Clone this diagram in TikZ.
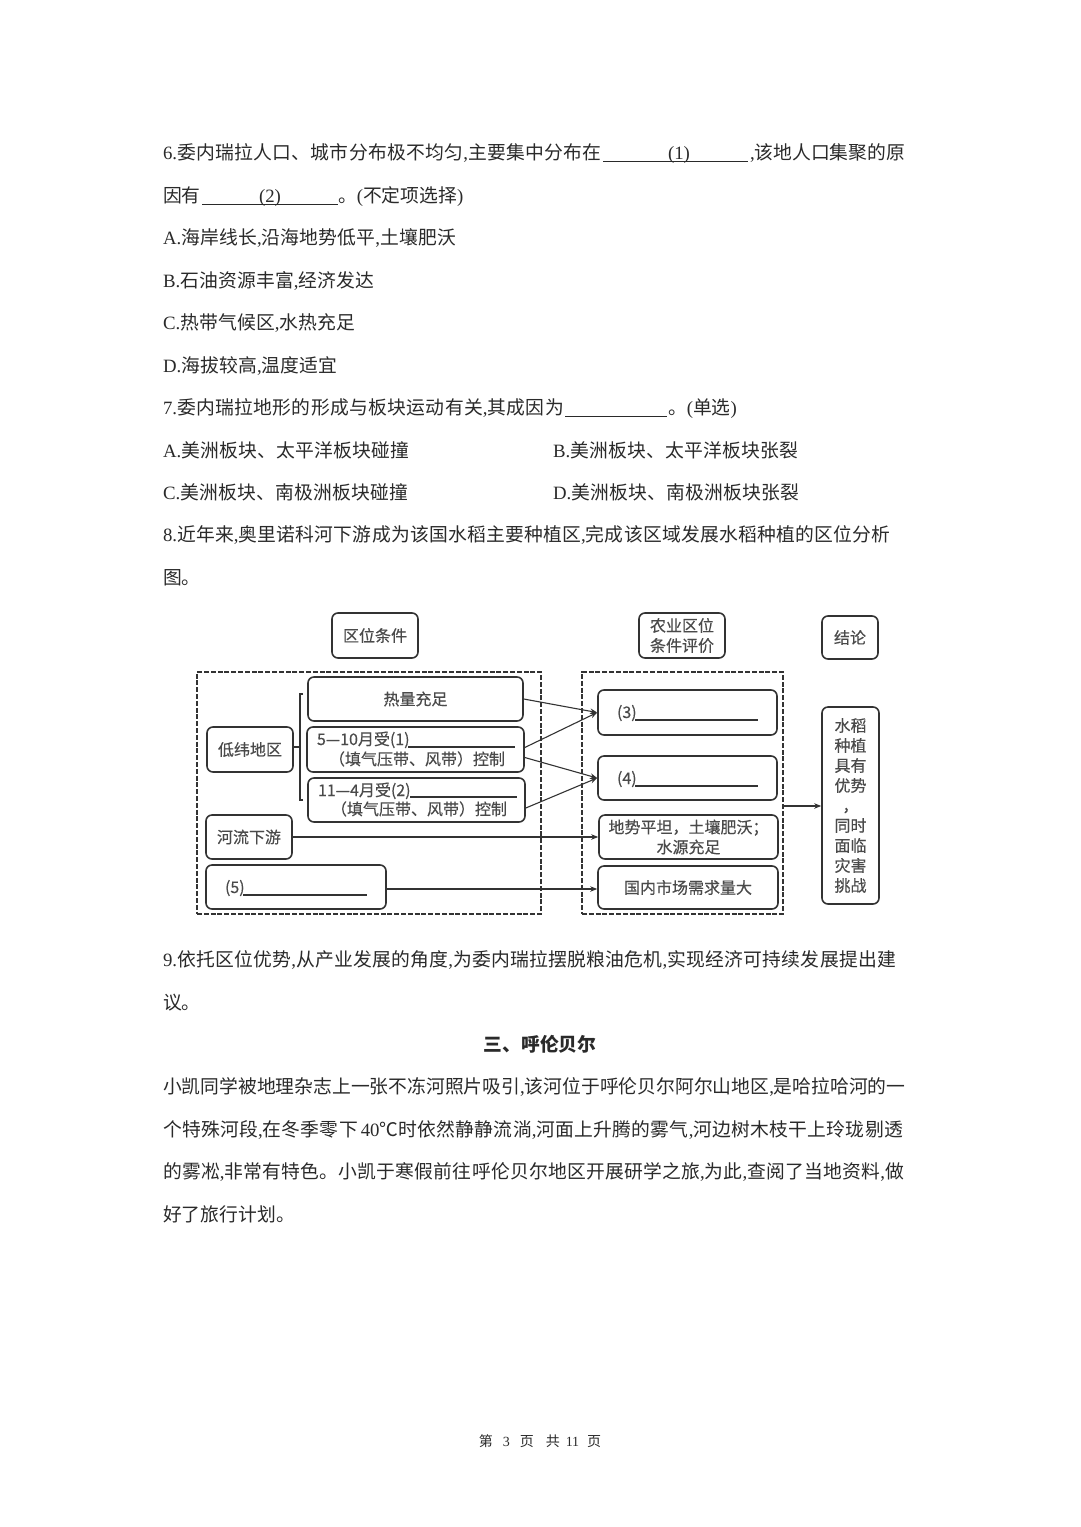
\documentclass[tikz,border=0pt]{standalone}
\usepackage{fontspec}
\usetikzlibrary{arrows.meta}
\setmainfont{Noto Sans CJK SC}
\newfontfamily\latinfont{Liberation Serif}
\newcommand\lt[1]{{\latinfont #1}}
\newcommand\spc[1]{\addfontfeature{LetterSpace=#1}}
\newcommand\figfont{\fontsize{16}{20}\selectfont\addfontfeature{FakeBold=0.35}}
\definecolor{pagetext}{HTML}{2A2A2A}
\definecolor{figtext}{HTML}{4A4A4A}
\definecolor{figline}{HTML}{333333}
\tikzset{
 para/.style={anchor=base west,inner sep=0pt,outer sep=0pt,text=pagetext,font=\fontsize{18.8}{23}\selectfont},
 uline/.style={draw=pagetext,line width=1pt},
 box/.style={draw=figline,line width=1.6pt,rounded corners=6pt,inner sep=0pt,align=center,text=figtext,font=\figfont},
 dashbox/.style={draw=figline,line width=2pt,dash pattern=on 5pt off 1.8pt,inner sep=0pt},
 figtxt/.style={inner sep=0pt,outer sep=0pt,text=figtext,font=\figfont,anchor=base west},
 figu/.style={draw=figline,line width=1.2pt},
 conn/.style={draw=figline,line width=1.1pt,-{Stealth[length=7pt,width=5.5pt]}},
 brk/.style={draw=figline,line width=1.1pt}
}
\begin{document}
\begin{tikzpicture}[x=1pt,y=-1pt]
\useasboundingbox[fill=white] (0,0) rectangle (1080,1527);
% question 6
\node[para] (q6a) at (163,159) {\spc{1.6}\lt{6.}委内瑞拉人口、城市分布极不均匀\lt{,}主要集中分布在};
\node[para] (q6b) at (668,159) {\lt{(1)}};
\node[para] (q6c) at (750,159) {\lt{,}该地人口集聚的原};
\draw[uline] (603,161) -- (748,161);
\node[para] (q6d) at (163,202) {因有};
\node[para] (q6e) at (259,202) {\lt{(2)}};
\node[para] (q6f) at (338,202) {。\lt{(}不定项选择\lt{)}};
\draw[uline] (202,204) -- (338,204);
\node[para] (oa) at (163,244) {\spc{1}\lt{A.}海岸线长\lt{,}沿海地势低平\lt{,}土壤肥沃};
\node[para] (ob) at (163,287) {\spc{1}\lt{B.}石油资源丰富\lt{,}经济发达};
\node[para] (oc) at (163,329) {\spc{1}\lt{C.}热带气候区\lt{,}水热充足};
\node[para] (od) at (163,372) {\spc{1}\lt{D.}海拔较高\lt{,}温度适宜};
% question 7
\node[para] (q7a) at (163,414) {\spc{1.8}\lt{7.}委内瑞拉地形的形成与板块运动有关\lt{,}其成因为};
\node[para] (q7b) at (668,414) {。\lt{(}单选\lt{)}};
\draw[uline] (565,416) -- (667,416);
\node[para] (pa) at (163,457) {\spc{1}\lt{A.}美洲板块、太平洋板块碰撞};
\node[para] (pb) at (553,457) {\spc{1}\lt{B.}美洲板块、太平洋板块张裂};
\node[para] (pc) at (163,499) {\spc{1}\lt{C.}美洲板块、南极洲板块碰撞};
\node[para] (pd) at (553,499) {\spc{1}\lt{D.}美洲板块、南极洲板块张裂};
% question 8
\node[para] (q8a) at (163,541) {\spc{1.3}\lt{8.}近年来\lt{,}奥里诺科河下游成为该国水稻主要种植区\lt{,}完成该区域发展水稻种植的区位分析};
\node[para] (q8b) at (163,584) {图。};
% figure
\node[box,minimum width=86pt,minimum height=45pt] (h1) at (375,635.5) {区位条件};
\node[box,minimum width=86pt,minimum height=45pt] (h2) at (682,635.5) {农业区位\\条件评价};
\node[box,minimum width=56pt,minimum height=43pt] (h3) at (850,637.5) {结论};
\node[dashbox,minimum width=344pt,minimum height=242pt] (dl) at (369,793) {};
\node[dashbox,minimum width=201pt,minimum height=242pt] (dr) at (682.5,793) {};
\node[box,minimum width=215pt,minimum height=44pt] (t1) at (415.5,699) {热量充足};
\node[box,minimum width=217pt,minimum height=45pt] (b1) at (415.5,749.5) {};
\node[box,minimum width=217pt,minimum height=44pt] (b2) at (416.5,800) {};
\node[box,minimum width=86pt,minimum height=45pt] (lw) at (250,749.5) {低纬地区};
\node[box,minimum width=86pt,minimum height=44pt] (hl) at (249,837) {河流下游};
\node[box,minimum width=180pt,minimum height=44pt] (f5) at (296,887) {};
\node[box,minimum width=179pt,minimum height=45pt] (e3) at (687.5,712.5) {};
\node[box,minimum width=179pt,minimum height=44pt] (e4) at (687.5,778) {};
\node[box,minimum width=179pt,minimum height=44pt] (e5) at (688.5,837) {地势平坦，土壤肥沃；\\水源充足};
\node[box,minimum width=180pt,minimum height=43pt] (e6) at (688,887.5) {国内市场需求量大};
\node[box,minimum width=57pt,minimum height=197pt] (con) at (850.5,805.5) {水稻\\种植\\具有\\优势\\，\\同时\\面临\\灾害\\挑战};
% texts in the figure's boxes
\node[figtxt] (b1a) at (317,745) {5—10月受(1)};
\node[figtxt,anchor=base] (b1b) at (417,765) {（填气压带、风带）控制};
\draw[figu] (408,747) -- (515,747);
\node[figtxt] (b2a) at (318,796) {11—4月受(2)};
\node[figtxt,anchor=base] (b2b) at (419,815) {（填气压带、风带）控制};
\draw[figu] (410,797) -- (517,797);
\node[figtxt] (f5a) at (225,893) {(5)};
\draw[figu] (243,895) -- (367,895);
\node[figtxt] (e3a) at (617,718) {(3)};
\draw[figu] (635,720) -- (758,720);
\node[figtxt] (e4a) at (617,784) {(4)};
\draw[figu] (635,786) -- (758,786);
% bracket
\coordinate (bt) at (303,694);
\coordinate (bb) at (303,800);
\coordinate (bm) at (300,747);
\draw[brk] (bt) -- (300,694) -- (300,800) -- (bb);
\draw[brk] (lw.east |- bm) -- (bm);
% connectors
\draw[conn] (t1.east) -- (e3.west);
\draw[conn] ([yshift=2pt]b1.east) -- (e3.west);
\draw[conn] ([yshift=-8pt]b1.east) -- (e4.west);
\draw[conn] ([yshift=-8pt]b2.east) -- (e4.west);
\draw[conn] (hl.east) -- (e5.west);
\draw[conn] ([yshift=-2pt]f5.east) -- ([yshift=-1.5pt]e6.west);
\draw[conn] ([yshift=-13pt]dr.east) -- ([yshift=-13pt]dr.east -| con.west);
% question 9
\node[para] (q9a) at (163,966) {\spc{1.5}\lt{9.}依托区位优势\lt{,}从产业发展的角度\lt{,}为委内瑞拉摆脱粮油危机\lt{,}实现经济可持续发展提出建};
\node[para] (q9b) at (163,1009) {议。};
\node[para,anchor=base,font=\fontsize{18.8}{23}\bfseries\selectfont] (sec) at (540,1051) {三、呼伦贝尔};
\node[para] (s1) at (163,1093) {小凯同学被地理杂志上一张不冻河照片吸引\lt{,}该河位于呼伦贝尔阿尔山地区\lt{,}是哈拉哈河的一};
\node[para] (s2) at (163,1136) {\spc{1.4}个特殊河段\lt{,}在冬季零下\hspace{3pt}\lt{40}℃时依然静静流淌\lt{,}河面上升腾的雾气\lt{,}河边树木枝干上玲珑剔透};
\node[para] (s3) at (163,1178) {\spc{1.25}的雾凇\lt{,}非常有特色。小凯于寒假前往呼伦贝尔地区开展研学之旅\lt{,}为此\lt{,}查阅了当地资料\lt{,}做};
\node[para] (s4) at (163,1221) {\spc{1}好了旅行计划。};
\node[para,anchor=base,font=\fontsize{14}{16}\selectfont] (foot) at (540,1446) {第\hspace{10pt}\lt{3}\hspace{10pt}页\hspace{12pt}共\hspace{6pt}\lt{11}\hspace{8pt}页};
\end{tikzpicture}
\end{document}
